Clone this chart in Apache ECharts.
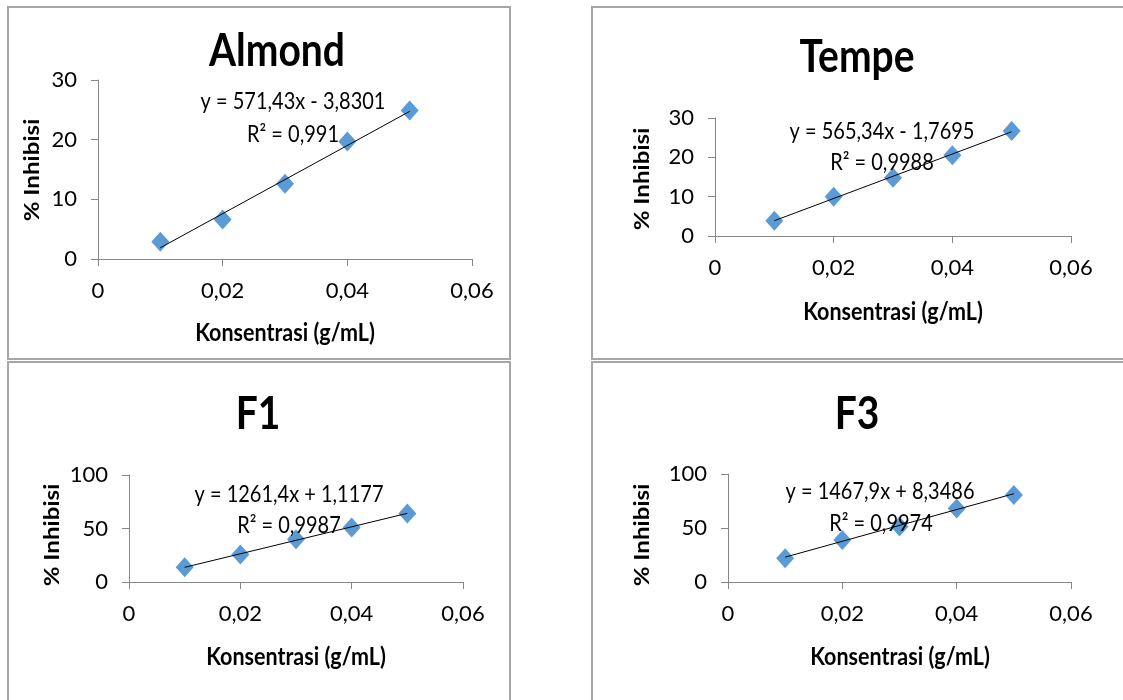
<!DOCTYPE html>
<html>
<head>
<meta charset="utf-8">
<script src="https://cdn.jsdelivr.net/npm/echarts@6/dist/echarts.min.js"></script>
<style>
html, body { margin: 0; padding: 0; background: #fff; }
#main { width: 1123px; height: 700px; }
</style>
</head>
<body>
<div id="main"></div>
<script>
// data
var xValues = [0.01, 0.02, 0.03, 0.04, 0.05];
var almondY = [2.9, 6.6, 12.6, 19.7, 24.9];
var tempeY = [3.9, 10.0, 14.8, 20.5, 26.7];
var f1Y = [13.8, 25.7, 40.0, 51.0, 64.1];
var f3Y = [22.1, 39.0, 51.5, 68.0, 80.5];
var titles = ['Almond', 'Tempe', 'F1', 'F3'];
var slopes = [571.43, 565.34, 1261.4, 1467.9];
var intercepts = [-3.8301, -1.7695, 1.1177, 8.3486];
var equations = ['y = 571,43x - 3,8301', 'y = 565,34x - 1,7695', 'y = 1261,4x + 1,1177', 'y = 1467,9x + 8,3486'];
var r2Labels = ['R\u00b2 = 0,991', 'R\u00b2 = 0,9988', 'R\u00b2 = 0,9987', 'R\u00b2 = 0,9974'];
var xTicks = [0, 0.02, 0.04, 0.06];
var yMax = [30, 30, 100, 100];
var yStep = [10, 10, 50, 50];
var xName = 'Konsentrasi (g/mL)';
var yName = '% Inhibisi';

var seriesY = [almondY, tempeY, f1Y, f3Y];

// layout of the four panels (pixels)
var panels = [
    { box: [8, 7, 502, 352], grid: { left: 98, top: 80, width: 374, height: 179 }, title: [277, 52], yn: [32, 170], xn: [285, 333], eq: [293, 102], r2: [293, 135] },
    { box: [592, 7, 540, 352], grid: { left: 715, top: 118, width: 356, height: 118 }, title: [857, 58], yn: [642, 179], xn: [893, 312], eq: [882, 132], r2: [882, 163] },
    { box: [8, 362, 502, 345], grid: { left: 129, top: 475, width: 334, height: 107 }, title: [258, 415], yn: [52, 535], xn: [296, 657], eq: [289, 495], r2: [289, 526] },
    { box: [592, 362, 540, 345], grid: { left: 728, top: 474, width: 343, height: 108 }, title: [857, 415], yn: [642, 535], xn: [900, 657], eq: [880, 492], r2: [881, 524] }
];

var FONT = 'Lato, "Open Sans", sans-serif';
var SY = 1.15; // the picture is stretched vertically

function fmtX(v) {
    return String(Math.round(v * 100) / 100).replace('.', ',');
}

function txt(pos, text, size, bold, rotate) {
    var t = {
        type: 'text', x: pos[0], y: pos[1], z: 10,
        style: { text: text, font: (bold ? 'bold ' : '') + size + 'px ' + FONT, fill: '#000', align: 'center', verticalAlign: 'middle' }
    };
    if (rotate) { t.rotation = Math.PI / 2; t.scaleX = SY; }
    else { t.scaleY = SY; }
    return t;
}

var option = { animation: false, grid: [], xAxis: [], yAxis: [], series: [], graphic: [] };

for (var i = 0; i < 4; i++) {
    var p = panels[i];
    option.grid.push(p.grid);
    option.xAxis.push({
        type: 'value', gridIndex: i, min: xTicks[0], max: xTicks[xTicks.length - 1], interval: xTicks[1] - xTicks[0],
        splitLine: { show: false },
        axisLine: { onZero: false, lineStyle: { color: '#868686', width: 1 } },
        axisTick: { show: true, length: 7, lineStyle: { color: '#868686' } },
        axisLabel: { color: '#000', fontFamily: FONT, fontSize: 22, margin: 21, formatter: fmtX }
    });
    option.yAxis.push({
        type: 'value', gridIndex: i, min: 0, max: yMax[i], interval: yStep[i],
        splitLine: { show: false },
        axisLine: { show: true, lineStyle: { color: '#868686', width: 1 } },
        axisTick: { show: true, length: 7, lineStyle: { color: '#868686' } },
        axisLabel: { color: '#000', fontFamily: FONT, fontSize: 22, margin: 21 }
    });
    var pts = [];
    for (var j = 0; j < xValues.length; j++) pts.push([xValues[j], seriesY[i][j]]);
    option.series.push({
        type: 'scatter', xAxisIndex: i, yAxisIndex: i, data: pts, z: 2,
        symbol: 'diamond', symbolSize: [18, 20],
        itemStyle: { color: '#5B9BD5', opacity: 1 }
    });
    // linear trendline from the equation printed on the chart
    var x0 = xValues[0], x1 = xValues[xValues.length - 1];
    option.series.push({
        type: 'line', xAxisIndex: i, yAxisIndex: i, z: 3, symbol: 'none', silent: true,
        data: [[x0, slopes[i] * x0 + intercepts[i]], [x1, slopes[i] * x1 + intercepts[i]]],
        lineStyle: { color: '#000', width: 1 }
    });
    option.graphic.push({
        type: 'rect', shape: { x: p.box[0], y: p.box[1], width: p.box[2], height: p.box[3] },
        style: { fill: 'none', stroke: '#a6a6a6', lineWidth: 2 }, z: 0
    });
    option.graphic.push(txt(p.title, titles[i], 39, true));
    option.graphic.push(txt(p.yn, yName, 21, true, true));
    option.graphic.push(txt(p.xn, xName, 21.5, true));
    option.graphic.push(txt(p.eq, equations[i], 20, false));
    option.graphic.push(txt(p.r2, r2Labels[i], 20, false));
}

var chart = echarts.init(document.getElementById('main'));
chart.setOption(option);
</script>
</body>
</html>
